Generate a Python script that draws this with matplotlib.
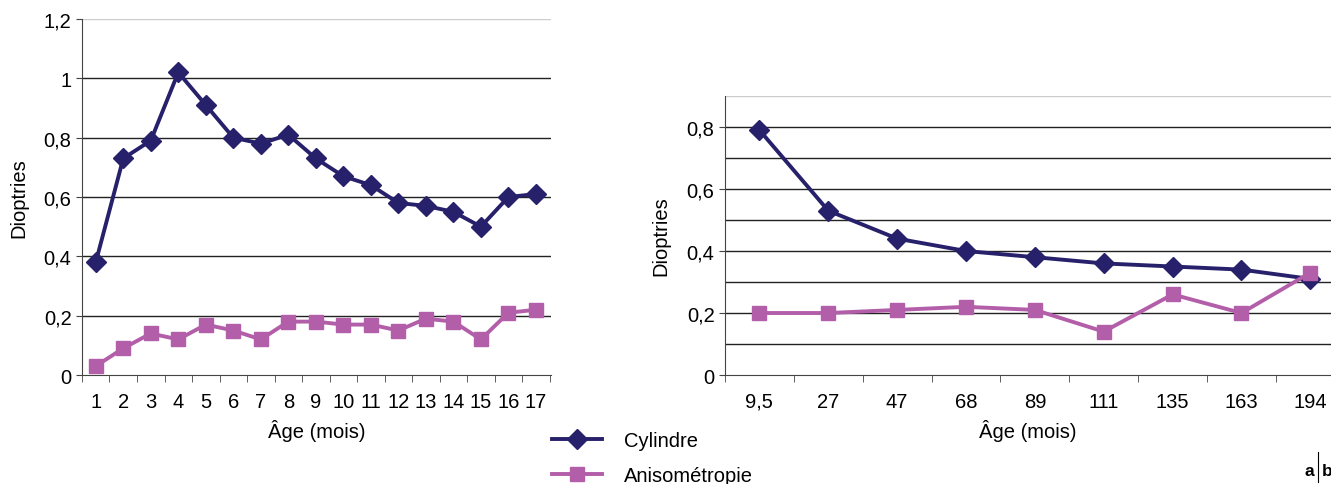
import matplotlib
matplotlib.use("Agg")
import matplotlib.pyplot as plt

plt.rcParams['font.family'] = ['Liberation Sans', 'DejaVu Sans']
plt.rcParams['font.size'] = 14.5

# panel a : age 1..17 months
ages_a = ["1", "2", "3", "4", "5", "6", "7", "8", "9", "10", "11", "12", "13", "14", "15", "16", "17"]
cyl_a = [0.38, 0.73, 0.79, 1.02, 0.91, 0.80, 0.78, 0.81, 0.73, 0.67, 0.64, 0.58, 0.57, 0.55, 0.50, 0.60, 0.61]
aniso_a = [0.03, 0.09, 0.14, 0.12, 0.17, 0.15, 0.12, 0.18, 0.18, 0.17, 0.17, 0.15, 0.19, 0.18, 0.12, 0.21, 0.22]
yticks_a = [0, 0.2, 0.4, 0.6, 0.8, 1.0, 1.2]
ylabels_a = ["0", "0,2", "0,4", "0,6", "0,8", "1", "1,2"]

# panel b : older children
ages_b = ["9,5", "27", "47", "68", "89", "111", "135", "163", "194"]
cyl_b = [0.79, 0.53, 0.44, 0.40, 0.38, 0.36, 0.35, 0.34, 0.31]
aniso_b = [0.20, 0.20, 0.21, 0.22, 0.21, 0.14, 0.26, 0.20, 0.33]
yticks_b = [0, 0.2, 0.4, 0.6, 0.8]
ylabels_b = ["0", "0,2", "0,4", "0,6", "0,8"]

navy = "#27216b"
mauve = "#b35ea9"

fig = plt.figure(figsize=(13.31, 4.85), dpi=100)
ax1 = fig.add_axes([0.0616, 0.2247, 0.3524, 0.7341])
ax2 = fig.add_axes([0.5447, 0.2247, 0.4553, 0.5753])


def style(ax, n, yt, yl, top, grid_step):
    for s in ["top", "right"]:
        ax.spines[s].set_visible(False)
    ax.spines["left"].set_color("#444444")
    ax.spines["bottom"].set_color("#444444")
    ax.set_ylim(0, top)
    ax.set_yticks(yt)
    ax.set_yticklabels(yl)
    g = grid_step
    while g < top - 1e-9:
        ax.axhline(g, color="#222222", lw=1.0, zorder=1)
        g += grid_step
    ax.axhline(top, color="#cccccc", lw=1.0, zorder=1)
    ax.set_xticks(range(n))
    ax.set_xticks([i + 0.5 for i in range(-1, n)], minor=True)
    ax.tick_params(axis="x", which="major", length=0, pad=12)
    ax.tick_params(axis="x", which="minor", length=5, direction="out", color="#444444")
    ax.tick_params(axis="y", length=4, color="#444444")
    ax.set_ylabel("Dioptries")
    ax.set_xlabel("Âge (mois)", labelpad=6)


ax1.plot(range(len(ages_a)), cyl_a, color=navy, lw=2.8, marker="D", ms=10, label="Cylindre", zorder=3)
ax1.plot(range(len(ages_a)), aniso_a, color=mauve, lw=2.8, marker="s", ms=10, label="Anisométropie", zorder=3)
style(ax1, len(ages_a), yticks_a, ylabels_a, 1.2, 0.2)
ax1.set_xticklabels(ages_a)
ax1.set_xlim(-0.5, 16.55)
ax1.yaxis.set_label_coords(-0.115, 0.5)

ax2.plot(range(len(ages_b)), cyl_b, color=navy, lw=2.8, marker="D", ms=10, zorder=3)
ax2.plot(range(len(ages_b)), aniso_b, color=mauve, lw=2.8, marker="s", ms=10, zorder=3)
style(ax2, len(ages_b), yticks_b, ylabels_b, 0.9, 0.1)
ax2.set_xticklabels(ages_b)
ax2.set_xlim(-0.5, 8.3)
ax2.yaxis.set_label_coords(-0.09, 0.5)

fig.legend(loc="upper left", bbox_to_anchor=(0.401, 0.147), frameon=False,
           handlelength=2.5, handletextpad=1.1, labelspacing=0.8, fontsize=14.5)

fig.text(0.9870, 0.012, "a", fontweight="bold", ha="right", va="bottom", fontsize=12.5)
fig.text(0.9930, 0.012, "b", fontweight="bold", ha="left", va="bottom", fontsize=12.5)
fig.add_artist(plt.Line2D([0.9900, 0.9900], [0.005, 0.065], color="black", lw=0.8))

fig.savefig("out.png", dpi=100)
